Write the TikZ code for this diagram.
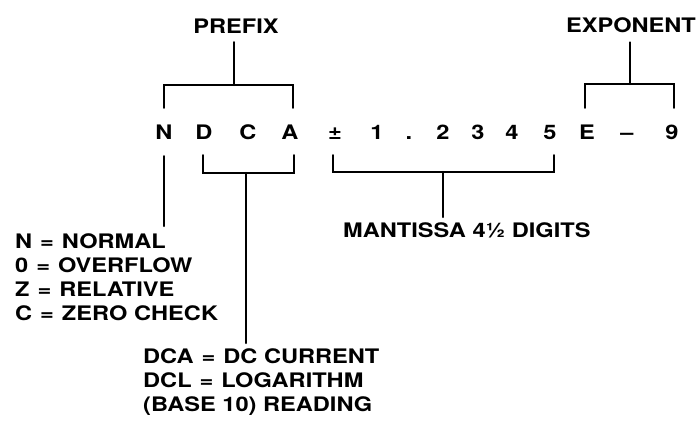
\documentclass[tikz,border=0pt]{standalone}
\usepackage{fontspec}
\setmainfont{TeX Gyre Heros}[FakeStretch=1.18]
\usetikzlibrary{calc}
\tikzset{
  glyph/.style={inner sep=0pt, text height=15pt, text depth=0pt, anchor=base},
  caption/.style={inner sep=0pt, anchor=base},
  note/.style={inner sep=0pt, align=left, anchor=north west},
  brace/.style={black, line width=2.4pt, line cap=round}
}
\newcommand{\eqsign}{\hspace{0.4em}=\hspace{0.4em}}

\begin{document}
\begin{tikzpicture}[x=1pt,y=1pt,font=\bfseries\fontsize{20}{24}\selectfont]
\useasboundingbox (0,0) rectangle (696,-425);
\node [glyph] (cN) at (164,-140) {N};
\node [glyph] (cD) at (204,-140) {D};
\node [glyph] (cC) at (248,-140) {C};
\node [glyph] (cA) at (290,-140) {A};
\node [glyph] (cpm) at (335,-140) {±};
\node [glyph] (d1) at (377,-140) {1};
\node [glyph] (dot) at (409,-140) {.};
\node [glyph] (d2) at (443,-140) {2};
\node [glyph] (d3) at (478,-140) {3};
\node [glyph] (d4) at (512,-140) {4};
\node [glyph] (d5) at (550,-140) {5};
\node [glyph] (cE) at (587,-140) {E};
\node [glyph] (cminus) at (627,-140) {--};
\node [glyph] (d9) at (672,-140) {9};
\node [caption] (prefix) at (236,-34) {PREFIX};
\node [caption] (expo) at (631,-33) {EXPONENT};
\node [caption, anchor=base west] (mant) at (343,-237) {MANTISSA 4½ DIGITS};
\node [note] (flags) at (15,-233) {N\eqsign NORMAL\\0\eqsign OVERFLOW\\Z\eqsign RELATIVE\\C\eqsign ZERO CHECK};
\node [note] (units) at (143,-348) {DCA\eqsign DC CURRENT\\DCL\eqsign LOGARITHM\\(BASE 10) READING};
\coordinate (pbar) at (234,-85);
\coordinate (ebar) at (630,-84);
\coordinate (mbar) at (443,-172);
\coordinate (ubar) at (246,-173);
\draw [brace] ([yshift=17pt]cN.north) |- ([xshift=3pt,yshift=40pt]cA.north) -- ([xshift=3pt,yshift=17pt]cA.north);
\draw [brace] (pbar |- prefix.south) ++(0,-8) -- (pbar);
\draw [brace] ([xshift=-2pt,yshift=17pt]cE.north) |- ([xshift=2pt,yshift=41pt]d9.north) -- ([xshift=2pt,yshift=17pt]d9.north);
\draw [brace] (ebar |- expo.south) ++(0,-9) -- (ebar);
\draw [brace] ([xshift=-2pt,yshift=-15pt]cpm.south) |- ([xshift=4pt,yshift=-32pt]d5.south) -- ([xshift=4pt,yshift=-15pt]d5.south);
\draw [brace] (mbar) -- ([yshift=5pt]mbar |- mant.north);
\draw [brace] ([xshift=-1pt,yshift=-15pt]cD.south) |- ([xshift=4pt,yshift=-33pt]cA.south) -- ([xshift=4pt,yshift=-15pt]cA.south);
\draw [brace] (ubar) -- ([yshift=5pt]ubar |- units.north);
\draw [brace] ([yshift=-16pt]cN.south) -- ([yshift=7pt]cN.south |- flags.north);
\end{tikzpicture}
\end{document}
